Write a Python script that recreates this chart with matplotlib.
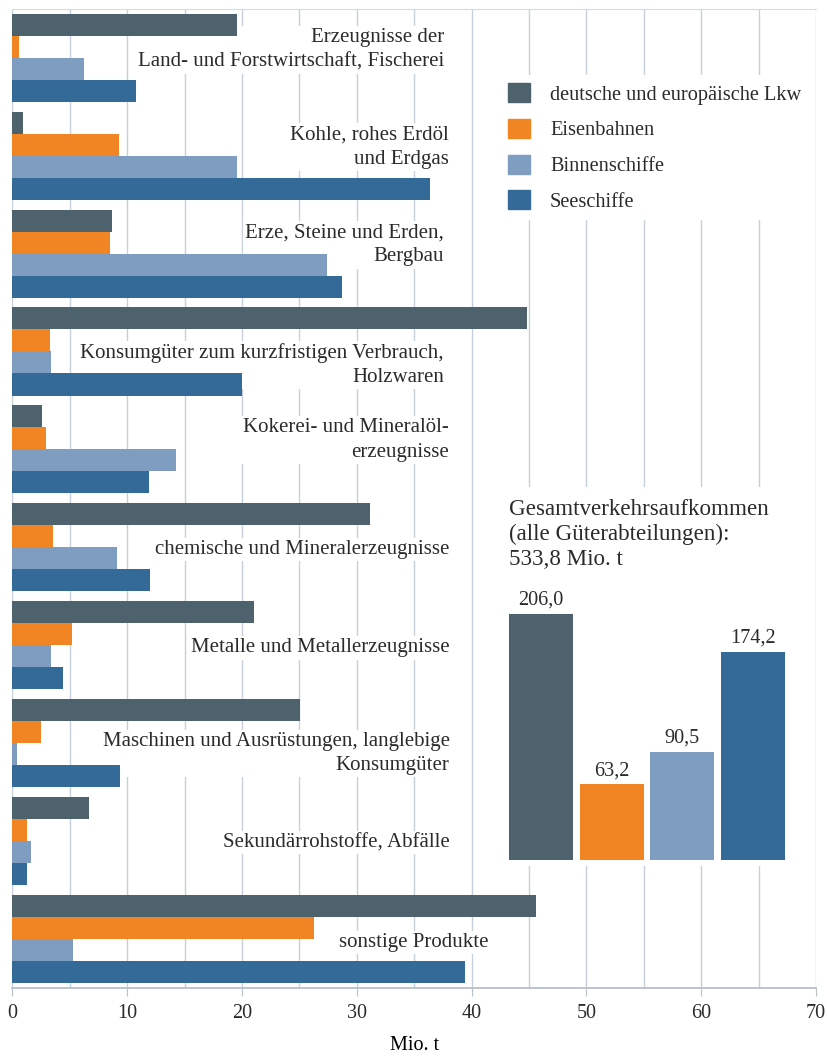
import matplotlib
matplotlib.use("Agg")
import matplotlib.pyplot as plt
import numpy as np
from matplotlib.patches import Patch

plt.rcParams['font.family'] = ['Liberation Serif', 'DejaVu Serif']
plt.rcParams['text.color'] = '#2b2b2b'

# Daten (Mio. t)
kategorien = [
    "Erzeugnisse der\nLand- und Forstwirtschaft, Fischerei",
    "Kohle, rohes Erdöl\nund Erdgas",
    "Erze, Steine und Erden,\nBergbau",
    "Konsumgüter zum kurzfristigen Verbrauch,\nHolzwaren",
    "Kokerei- und Mineralöl-\nerzeugnisse",
    "chemische und Mineralerzeugnisse",
    "Metalle und Metallerzeugnisse",
    "Maschinen und Ausrüstungen, langlebige\nKonsumgüter",
    "Sekundärrohstoffe, Abfälle",
    "sonstige Produkte",
]
serien = ["deutsche und europäische Lkw", "Eisenbahnen", "Binnenschiffe", "Seeschiffe"]
lkw = [19.55, 0.93, 8.66, 44.8, 2.61, 31.16, 21.03, 25.09, 6.68, 45.6]
bahn = [0.55, 9.3, 8.54, 3.28, 2.9, 3.57, 5.23, 2.47, 1.31, 26.3]
binnen = [6.25, 19.57, 27.4, 3.37, 14.29, 9.15, 3.34, 0.38, 1.66, 5.3]
see = [10.75, 36.4, 28.75, 19.98, 11.93, 11.97, 4.45, 9.35, 1.31, 39.4]
gesamt = [206.0, 63.2, 90.5, 174.2]

farben = ['#4e626d', '#f28523', '#7f9dc0', '#336a98']
gridfarbe = '#c6d0da'

# Lage der Kategorietexte (rechter Rand in Mio. t, Versatz in Gruppen)
label_x = [37.6, 38.0, 37.6, 37.6, 38.0, 38.1, 38.1, 38.1, 38.1, 41.5]
label_dy = [-0.08, -0.09, -0.09, 0.14, -0.095, 0.02, 0.03, 0.11, 0.02, 0.04]

W, H = 828, 1059
fig = plt.figure(figsize=(W / 100, H / 100), dpi=100)
ax = fig.add_axes([12.3 / W, 1 - 987.5 / H, (815.9 - 12.3) / W, (987.5 - 9) / H])

y = np.arange(len(kategorien))
h = 0.225
for i, (werte, farbe) in enumerate(zip([lkw, bahn, binnen, see], farben)):
    ax.barh(y + (i - 1.5) * h, werte, height=h, color=farbe, label=serien[i], zorder=2)

for k, txt in enumerate(kategorien):
    ax.text(label_x[k], y[k] + label_dy[k], txt, ha='right', va='center',
            fontsize=15, linespacing=1.38, zorder=1.5,
            bbox=dict(fc='white', ec='none', pad=1.5))

ax.set_xlim(0, 70)
ax.set_ylim(9.5, -0.5)
ax.set_xticks(range(0, 71, 10))
ax.set_xticks(range(5, 70, 10), minor=True)
ax.tick_params(axis='x', which='major', length=6, color='#b6c0ca', labelsize=14.5,
               labelcolor='#2b2b2b', pad=6)
ax.tick_params(axis='x', which='minor', length=0)
ax.set_yticks([])
ax.grid(axis='x', which='both', color=gridfarbe, lw=1, zorder=0)
ax.set_axisbelow(True)
for s in ['left', 'right']:
    ax.spines[s].set_visible(False)
ax.spines['top'].set_color('#d3dbe3')
ax.spines['bottom'].set_color('#b6c0ca')
ax.spines['bottom'].set_linewidth(1.3)
ax.set_xlabel('Mio. t', fontsize=14.5)
ax.xaxis.set_label_coords(0.5, -0.05)

# Legende
handles = [Patch(color=c) for c in farben]
leg = fig.legend(handles, serien, loc='upper left',
                 bbox_to_anchor=(500 / W, 1 - 75 / H), frameon=True,
                 fontsize=14.7, handlelength=1.05, handleheight=1.05,
                 handletextpad=1.0, labelspacing=0.7, borderpad=0.4,
                 borderaxespad=0)
leg.get_frame().set_facecolor('white')
leg.get_frame().set_edgecolor('none')
leg.get_frame().set_alpha(1)

# Einschub: Gesamtverkehrsaufkommen
ins = fig.add_axes([500 / W, 1 - 866 / H, 305 / W, 379 / H])
ins.set_facecolor('white')
for s in ins.spines.values():
    s.set_visible(False)
ins.set_xticks([])
ins.set_yticks([])
ins.bar(range(4), gesamt, width=0.905, color=farben)
ins.set_xlim(-0.58, 3.735)
ins.set_ylim(-5, 312)
for xi, v in enumerate(gesamt):
    ins.annotate(f"{v:.1f}".replace('.', ','), (xi, v), xytext=(0, 3),
                 textcoords='offset points', ha='center', va='bottom', fontsize=14.6)
ins.text(0.03, 0.968, "Gesamtverkehrsaufkommen\n(alle Güterabteilungen):\n533,8 Mio. t",
         transform=ins.transAxes, ha='left', va='top', fontsize=16.6, linespacing=1.25)

fig.savefig('out.png', dpi=100)
